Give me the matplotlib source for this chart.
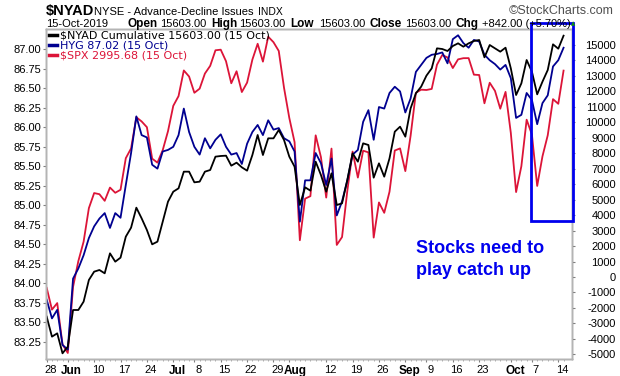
import matplotlib
matplotlib.use("Agg")
import matplotlib.pyplot as plt
import pandas as pd
from matplotlib.patches import Rectangle
from matplotlib.lines import Line2D
from matplotlib.transforms import ScaledTranslation

# ---------------- data ----------------
dates = pd.bdate_range("2019-05-28", "2019-10-15", freq="C",
                       holidays=["2019-07-04", "2019-09-02"])

nyad = [-2566, -3859, -3644, -4937, -4506, -2135, -2135, -1596, -195, 344,
        452, 236, 1529, 990, 1249, 2607, 3189, 4482, 3792, 3038,
        2111, 2284, 3577, 4870, 5516, 5732, 6810, 6810, 6120, 6163,
        6810, 6917, 7780, 7823, 7844, 7198, 7392, 7090, 6874, 7887,
        9181, 7887, 8965, 8965, 9504, 8857, 7780, 7133, 4654, 5797,
        5581, 7456, 6594, 5516, 6702, 4654, 4762, 6271, 7995, 7456,
        8642, 8534, 6422, 7349, 6486, 7672, 9396, 9719, 9073, 10905,
        11875, 12306, 13017, 13491, 14784, 14741, 14612, 14935, 15108, 14892,
        15108, 15258, 15323, 14202, 15000, 14784, 14569, 14827, 13491, 11767,
        12521, 14030, 13276, 11810, 12629, 13383, 15043, 14761, 15603]

hyg = [83.79, 83.55, 83.66, 83.21, 83.15, 84.06, 84.19, 84.36, 84.58, 84.73,
       84.83, 84.90, 84.71, 84.90, 84.84, 85.26, 85.67, 86.14, 85.90, 85.87,
       85.52, 85.47, 85.69, 85.71, 85.75, 85.90, 86.24, 85.94, 85.75, 85.65,
       85.86, 85.73, 85.84, 85.91, 85.75, 85.65, 85.67, 85.53, 85.79, 85.94,
       86.03, 85.90, 86.09, 85.97, 85.99, 85.86, 85.82, 85.69, 84.79, 85.32,
       85.32, 85.67, 85.54, 85.26, 85.60, 84.87, 85.05, 85.32, 85.65, 85.71,
       86.07, 86.22, 85.84, 86.26, 86.24, 86.44, 86.52, 86.46, 86.19, 86.37,
       86.71, 86.80, 86.89, 86.93, 86.94, 86.96, 86.82, 87.13, 87.18, 87.08,
       87.02, 87.12, 87.10, 86.93, 86.86, 86.81, 86.74, 86.80, 86.63, 86.12,
       86.16, 86.44, 86.35, 86.04, 86.31, 86.41, 86.78, 86.86, 87.02]

spx = [2802.39, 2783.02, 2788.86, 2752.06, 2744.45, 2803.27, 2826.15, 2843.49, 2873.34, 2886.73,
       2885.72, 2879.84, 2891.64, 2886.98, 2889.67, 2917.75, 2926.46, 2954.18, 2950.46, 2945.35,
       2917.38, 2913.78, 2924.92, 2941.76, 2964.33, 2973.01, 2995.82, 2990.41, 2975.95, 2979.63,
       2993.07, 2999.91, 3013.77, 3014.30, 3004.04, 2984.42, 2995.11, 2976.61, 2985.03, 3005.47,
       3019.56, 3003.67, 3025.86, 3020.97, 3013.18, 2980.38, 2953.56, 2932.05, 2844.74, 2881.77,
       2883.98, 2938.09, 2918.65, 2882.70, 2926.32, 2840.60, 2847.60, 2888.68, 2923.65, 2900.51,
       2924.43, 2922.95, 2847.11, 2878.38, 2869.16, 2887.94, 2924.58, 2926.46, 2906.27, 2937.78,
       2976.00, 2978.71, 2978.43, 2979.39, 3000.93, 3009.57, 3007.39, 2997.96, 3005.70, 3006.73,
       3006.79, 2992.07, 2991.78, 2966.60, 2984.87, 2977.62, 2961.79, 2976.74, 2940.25, 2887.61,
       2910.63, 2952.01, 2938.79, 2893.06, 2919.40, 2938.13, 2970.27, 2966.15, 2995.68]

tick_dates = ["2019-05-28", "2019-06-03", "2019-06-10", "2019-06-17", "2019-06-24",
              "2019-07-01", "2019-07-08", "2019-07-15", "2019-07-22", "2019-07-29",
              "2019-08-01", "2019-08-12", "2019-08-19", "2019-08-26", "2019-09-03",
              "2019-09-09", "2019-09-16", "2019-09-23", "2019-10-01", "2019-10-07",
              "2019-10-14"]
tick_labels = ["28", "Jun", "10", "17", "24", "Jul", "8", "15", "22", "29", "Aug",
               "12", "19", "26", "Sep", "9", "16", "23", "Oct", "7", "14"]
month_labels = {"Jun", "Jul", "Aug", "Sep", "Oct"}

hyg_ticks = [83.25, 83.50, 83.75, 84.00, 84.25, 84.50, 84.75, 85.00, 85.25,
             85.50, 85.75, 86.00, 86.25, 86.50, 86.75, 87.00]
nyad_ticks = list(range(-5000, 16000, 1000))

# ---------------- figure ----------------
W, H = 620, 376
plt.rcParams["font.family"] = ["Liberation Sans", "DejaVu Sans"]
fig = plt.figure(figsize=(W / 100, H / 100), dpi=100)

L, R, T, B = 46, 572, 29, 359


def fx(x):
    return x / W


def fy(y):
    return 1 - y / H


rect = [fx(L), fy(B), fx(R) - fx(L), fy(T) - fy(B)]
ax_spx = fig.add_axes(rect)
ax_hyg = ax_spx.twinx()
ax_nyad = ax_spx.twinx()

x = list(range(len(dates)))
RED = "#DC1438"
NAVY = "#000090"

ax_spx.plot(x, spx, color=RED, lw=1.3)
ax_hyg.plot(x, hyg, color=NAVY, lw=1.3)
ax_nyad.plot(x, nyad, color="black", lw=1.3)

ax_spx.set_xlim(-0.13, 99.6)
ax_spx.set_ylim(2739.1, 3032.7)
ax_hyg.set_ylim(83.0295, 87.2603)
ax_nyad.set_ylim(-5304, 16035)

GREY = "#b4b4b4"
for a in (ax_spx, ax_hyg, ax_nyad):
    for s in a.spines.values():
        s.set_color(GREY)
        s.set_linewidth(1.0)

ax_spx.set_yticks([])
ax_hyg.yaxis.tick_left()
ax_hyg.set_yticks(hyg_ticks)
ax_hyg.set_yticklabels([f"{v:.2f}" for v in hyg_ticks])
ax_hyg.tick_params(axis="y", length=2.5, width=0.8, color="#808080", pad=1,
                   labelsize=8, labelcolor="black")

ax_nyad.yaxis.tick_right()
ax_nyad.set_yticks(nyad_ticks)
ax_nyad.set_yticklabels([str(v) for v in nyad_ticks])
ax_nyad.tick_params(axis="y", length=2.5, width=0.8, color="#808080", pad=29,
                    labelsize=8, labelcolor="black")
for t in ax_nyad.get_yticklabels():
    t.set_horizontalalignment("right")

pos = [dates.get_loc(pd.Timestamp(d)) for d in tick_dates]
ax_spx.set_xticks(pos)
ax_spx.set_xticklabels(tick_labels)
ax_spx.set_xticks(x, minor=True)
ax_spx.tick_params(axis="x", which="major", length=2.5, width=0.8, color="#808080",
                   pad=2, labelsize=8)
ax_spx.tick_params(axis="x", which="minor", length=1.5, width=0.6, color="#a0a0a0")
for t in ax_spx.get_xticklabels():
    dx = 6 if t.get_text() == "Aug" else 4
    t.set_transform(t.get_transform() + ScaledTranslation(dx / 100, 0, fig.dpi_scale_trans))
    if t.get_text() in month_labels:
        t.set_fontweight("bold")
        t.set_fontsize(8.5)

# ---------------- header texts ----------------
fig.text(fx(46), fy(15), "$NYAD", fontsize=10.5, fontweight="bold", va="baseline")
fig.text(fx(94), fy(15), "NYSE - Advance-Decline Issues", fontsize=8, va="baseline")
fig.text(fx(258), fy(15), "INDX", fontsize=7.5, va="baseline")
fig.text(fx(614), fy(14), "\u00a9StockCharts.com", fontsize=9, color="#505050",
         va="baseline", ha="right")

row2 = [("15-Oct-2019", 46, "normal"), ("Open", 127, "bold"), ("15603.00", 160, "normal"),
        ("High", 211, "bold"), ("15603.00", 239, "normal"), ("Low", 290, "bold"),
        ("15603.00", 319, "normal"), ("Close", 369, "bold"), ("15603.00", 405, "normal"),
        ("Chg", 456, "bold"), ("+842.00 (+5.70%)", 482, "normal")]
for txt, xx, w in row2:
    fig.text(fx(xx), fy(27), txt, fontsize=8.5 if w == "bold" else 8,
             fontweight=w, va="baseline")
fig.text(fx(571), fy(25), "\u25b2", fontsize=4, color="#109010", va="baseline",
         family="DejaVu Sans")

# ---------------- legend ----------------
leg = [("$NYAD Cumulative 15603.00 (15 Oct)", "black", 35),
       ("HYG 87.02 (15 Oct)", NAVY, 45),
       ("$SPX 2995.68 (15 Oct)", RED, 55)]
for txt, c, yy in leg:
    fig.add_artist(Line2D([fx(49), fx(57)], [fy(yy), fy(yy)], color=c, lw=2.5,
                          transform=fig.transFigure))
    fig.text(fx(60), fy(yy), txt, color=c, fontsize=8, va="center",
             family="DejaVu Sans")

# ---------------- annotation ----------------
BLUE = "#0000EE"
fig.add_artist(Rectangle((fx(531), fy(221.5)), fx(573) - fx(531), fy(23) - fy(221.5),
                         fill=False, edgecolor=BLUE, lw=2.0,
                         transform=fig.transFigure))
fig.text(fx(416), fy(253), "Stocks need to", color=BLUE, fontsize=13,
         fontweight="bold", va="baseline")
fig.text(fx(416), fy(275), "play catch up", color=BLUE, fontsize=13,
         fontweight="bold", va="baseline")

fig.savefig("out.png", dpi=100)
